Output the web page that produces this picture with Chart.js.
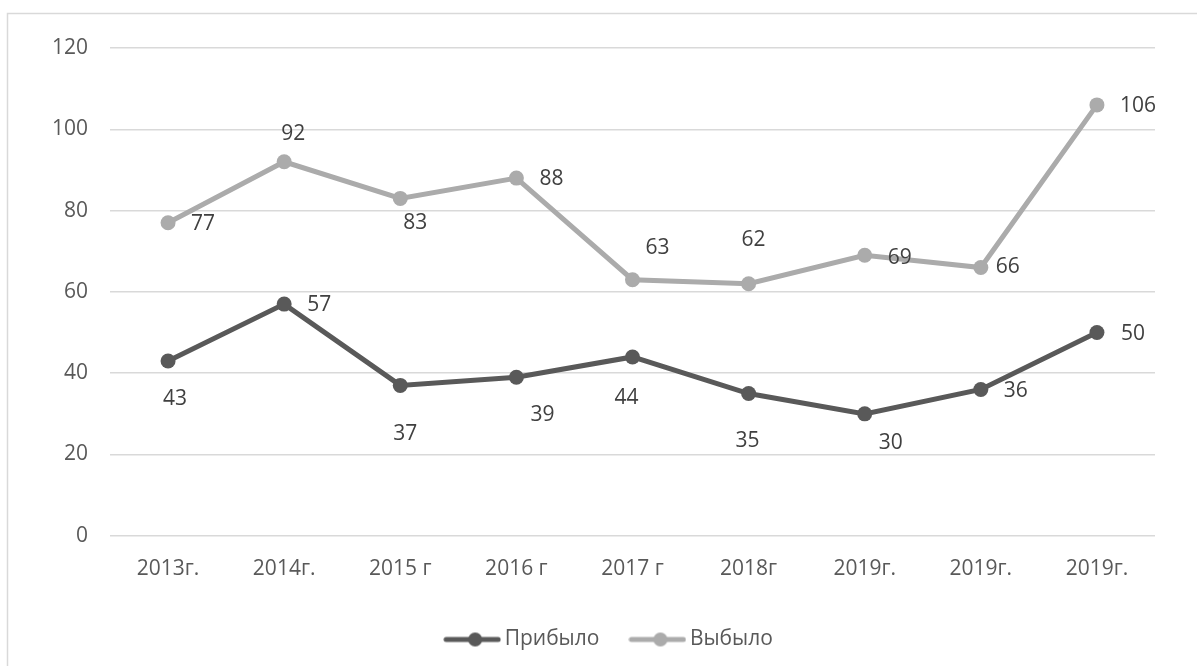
<!DOCTYPE html>
<html>
<head>
<meta charset="utf-8">
<script src="https://cdn.jsdelivr.net/npm/chart.js@4/dist/chart.umd.min.js"></script>
<style>
  html, body { margin: 0; padding: 0; background: #fff; }
  #wrap { width: 1197px; height: 666px; }
</style>
</head>
<body>
<div id="wrap"><canvas id="canvas" width="1197" height="666"></canvas></div>
<script>
/* datos */
const years = ['2013г.', '2014г.', '2015 г', '2016 г', '2017 г', '2018г', '2019г.', '2019г.', '2019г.'];
const arrived = [43, 57, 37, 39, 44, 35, 30, 36, 50];
const leftOut = [77, 92, 83, 88, 63, 62, 69, 66, 106];
const yTicks = [0, 20, 40, 60, 80, 100, 120];

/* label offsets from the point, px */
const arrivedShift = [[7, 38], [35, 1], [5, 49], [26, 38], [-6, 41], [-1, 47], [26, 29], [35, 2], [36, 1]];
const leftShift = [[35, 1], [9, -28], [15, 25], [35, 1], [25, -32], [5, -44], [35, 3], [27, 0], [41, 1]];

const darkGray = '#595959';
const lightGray = '#ABABAB';
const font = '"Open Sans", sans-serif';
const fontSize = 21;

function legendIcon(color) {
    const c = document.createElement('canvas');
    c.width = 58; c.height = 16;
    const g = c.getContext('2d');
    g.strokeStyle = color;
    g.lineWidth = 5;
    g.lineCap = 'round';
    g.beginPath(); g.moveTo(3, 8); g.lineTo(55, 8); g.stroke();
    g.fillStyle = color;
    g.beginPath(); g.arc(32, 8, 7, 0, Math.PI * 2); g.fill();
    return c;
}

const frame = {
    id: 'frame',
    beforeDraw(chart) {
        const c = chart.ctx;
        c.save();
        c.strokeStyle = '#D9D9D9';
        c.lineWidth = 1.5;
        c.strokeRect(7.5, 13.5, 1200, 700);
        c.restore();
    }
};

/* mover la leyenda un poco a la derecha */
const legendShift = {
    id: 'legendShift',
    afterLayout(chart) {
        chart.legend.left += 24;
        chart.legend.right += 24;
    }
};

const pointLabels = {
    id: 'pointLabels',
    afterDatasetsDraw(chart) {
        const c = chart.ctx;
        const shifts = [arrivedShift, leftShift];
        c.save();
        c.font = fontSize + 'px ' + font;
        c.fillStyle = '#404040';
        c.textAlign = 'center';
        c.textBaseline = 'middle';
        chart.data.datasets.forEach((ds, i) => {
            chart.getDatasetMeta(i).data.forEach((pt, j) => {
                const s = shifts[i][j];
                c.fillText(ds.data[j], pt.x + s[0], pt.y + s[1]);
            });
        });
        c.restore();
    }
};

const ctx = document.getElementById('canvas');

var chart1 = new Chart(ctx, {
    type: 'line',
    data: {
        labels: years,
        datasets: [{
            label: 'Прибыло',
            data: arrived,
            borderColor: darkGray,
            backgroundColor: darkGray,
            borderWidth: 5,
            pointRadius: 7.5,
            pointBackgroundColor: darkGray,
            pointBorderWidth: 0,
            tension: 0
        }, {
            label: 'Выбыло',
            data: leftOut,
            borderColor: lightGray,
            backgroundColor: lightGray,
            borderWidth: 5,
            pointRadius: 7.5,
            pointBackgroundColor: lightGray,
            pointBorderWidth: 0,
            tension: 0
        }]
    },
    options: {
        responsive: false,
        animation: false,
        layout: { padding: { left: 20, right: 42, top: 48, bottom: 6 } },
        plugins: {
            tooltip: { enabled: false },
            legend: {
                position: 'bottom',
                labels: {
                    color: darkGray,
                    font: { family: font, size: fontSize },
                    usePointStyle: true,
                    pointStyleWidth: 44,
                    padding: 36,
                    generateLabels(chart) {
                        return chart.data.datasets.map((ds, i) => ({
                            text: ds.label,
                            pointStyle: legendIcon(ds.borderColor),
                            fillStyle: ds.borderColor,
                            strokeStyle: ds.borderColor,
                            lineWidth: 0,
                            fontColor: darkGray,
                            datasetIndex: i
                        }));
                    }
                }
            }
        },
        scales: {
            x: {
                offset: true,
                afterFit(scale) { scale.height -= 2; },
                grid: { display: false },
                border: { display: false },
                ticks: { color: darkGray, font: { family: font, size: fontSize }, padding: 13, maxRotation: 0 }
            },
            y: {
                min: 0,
                max: 120,
                afterFit(scale) { scale.width = 90; },
                afterBuildTicks(scale) { scale.ticks = yTicks.map(v => ({ value: v })); },
                grid: { color: '#D9D9D9', lineWidth: 1.5, drawTicks: false },
                border: { display: false },
                ticks: { color: darkGray, font: { family: font, size: fontSize }, padding: 22 }
            }
        }
    },
    plugins: [frame, legendShift, pointLabels]
});
</script>
</body>
</html>
